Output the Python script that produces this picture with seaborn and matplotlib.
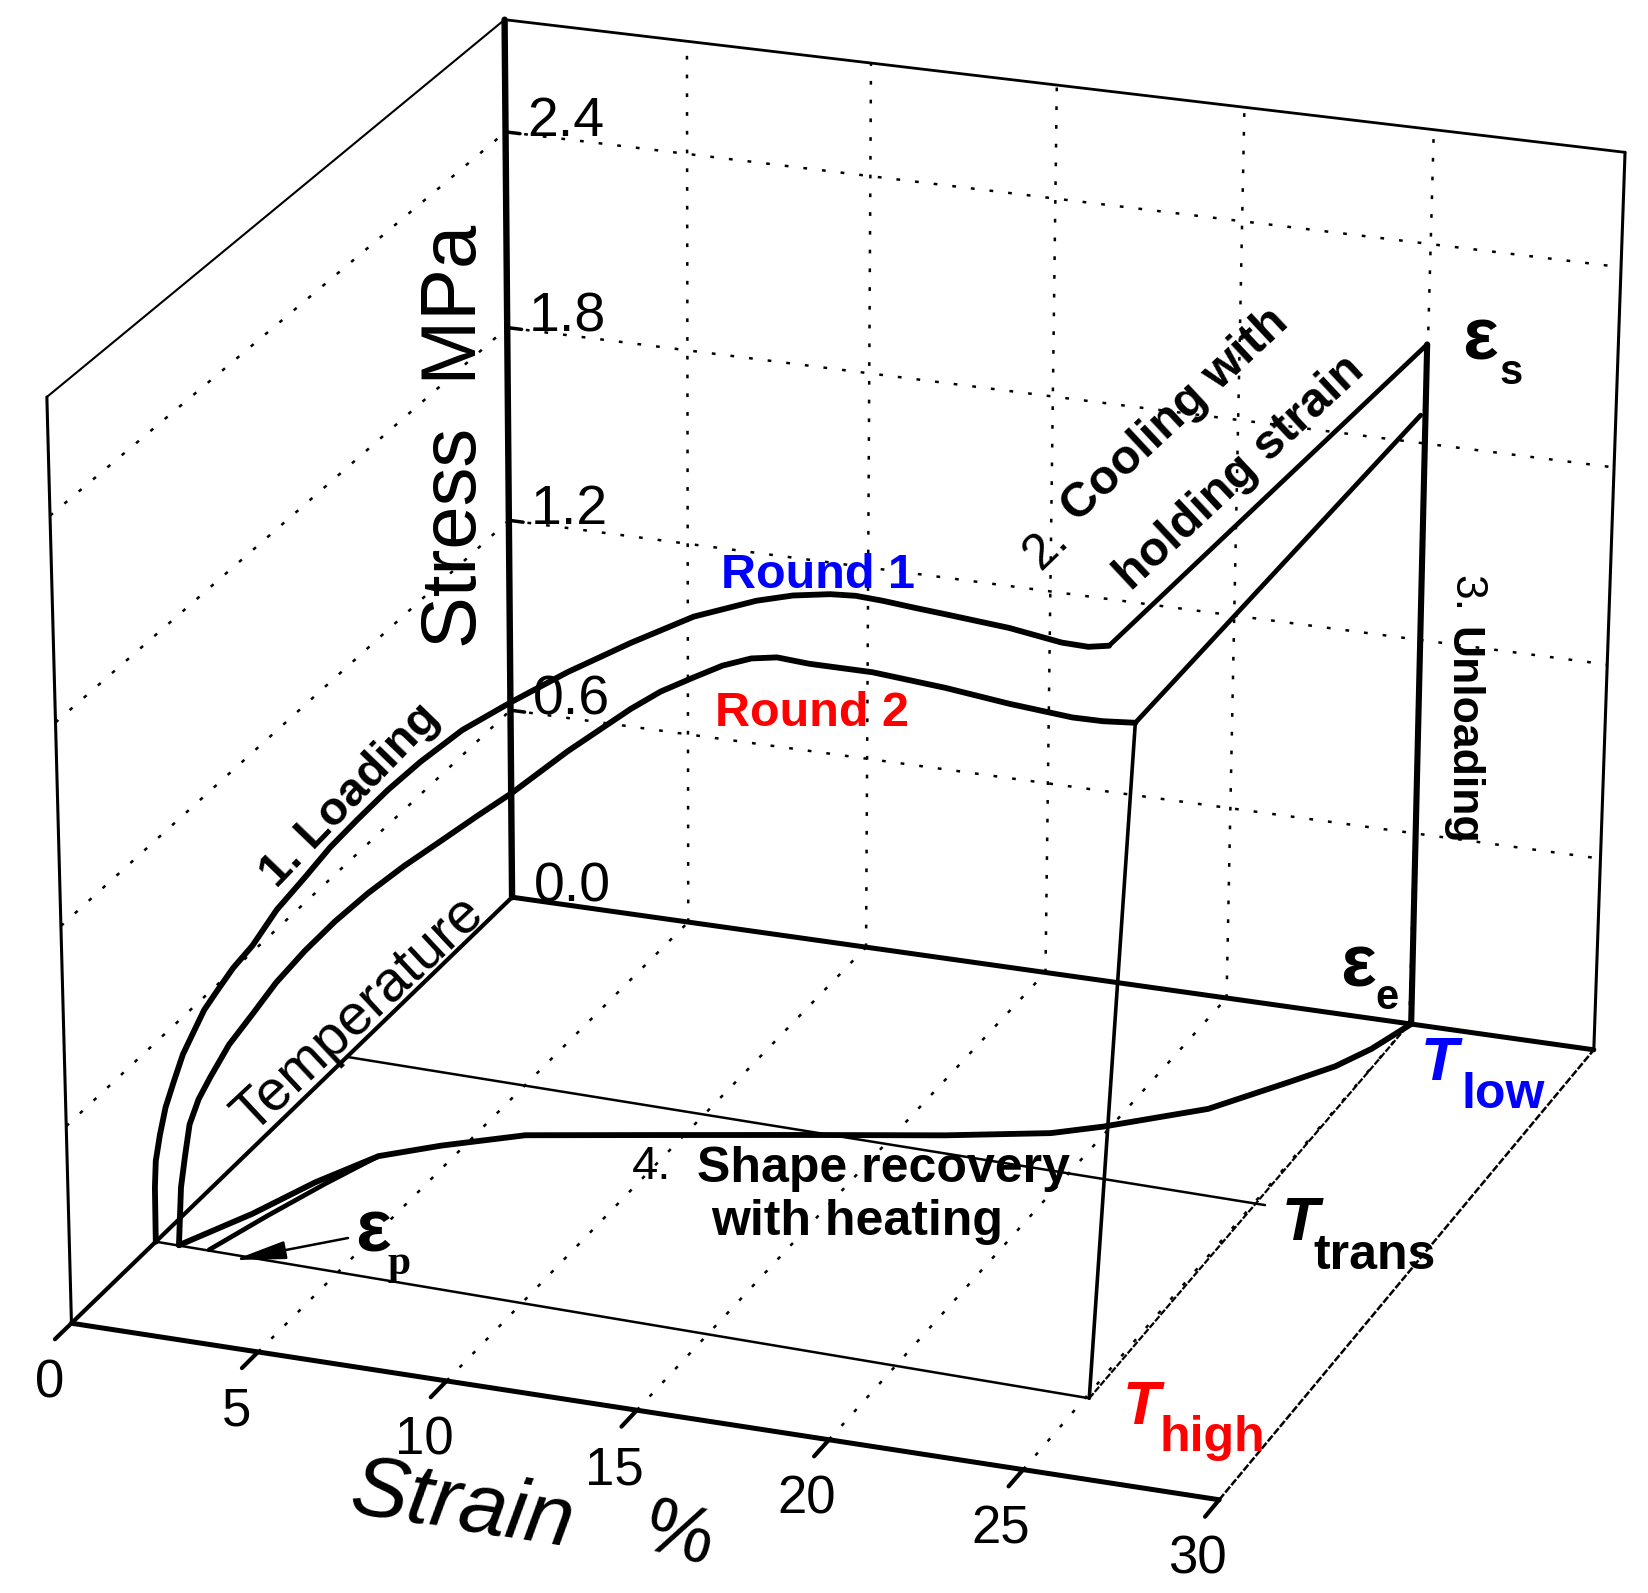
import numpy as np
import matplotlib
matplotlib.use('Agg')
import matplotlib.pyplot as plt
import seaborn as sns

strain_ticks = [0, 5, 10, 15, 20, 25, 30]
stress_ticks = [0.0, 0.6, 1.2, 1.8, 2.4]
stress_top = 2.74
t_front, t_high, t_trans, t_low = 0.0, 0.181, 0.609, 1.0
t_high_end, t_trans_end = 0.152, 0.58

round1_strain = [0.00, 0.01, 0.05, 0.18, 0.35, 0.58, 0.85, 1.18, 1.45, 1.77, 2.25, 2.78, 3.45, 4.22, 4.90, 5.64, 6.45,
                 7.32, 8.43, 9.73, 11.19, 12.83, 14.46, 16.07, 17.00, 17.95, 18.60, 19.29, 20.10, 20.90, 22.50, 23.83,
                 24.50, 25.02]
round1_stress = [0.00, 0.168, 0.250, 0.333, 0.420, 0.500, 0.590, 0.670, 0.735, 0.792, 0.875, 0.951, 1.070, 1.180, 1.280,
                 1.375, 1.475, 1.572, 1.683, 1.786, 1.895, 2.005, 2.106, 2.176, 2.205, 2.223, 2.228, 2.224, 2.216, 2.209,
                 2.194, 2.172, 2.170, 2.181]
round2_strain = [0.63, 0.72, 0.85, 0.99, 1.25, 1.58, 2.10, 2.75, 3.40, 4.18, 5.00, 5.89, 6.85, 7.85, 8.80, 9.71, 11.18,
                 12.82, 13.60, 14.45, 15.20, 15.94, 16.60, 17.42, 19.04, 20.91, 22.52, 24.12, 24.90, 25.71]
round2_stress = [0.00, 0.180, 0.280, 0.378, 0.460, 0.533, 0.640, 0.744, 0.850, 0.958, 1.060, 1.159, 1.255, 1.347, 1.435,
                 1.517, 1.663, 1.812, 1.875, 1.929, 1.975, 2.007, 2.020, 2.014, 2.014, 1.997, 1.976, 1.961, 1.962, 1.970]
cooled_strain = [24.98, 24.86]
cooled_stress = [2.099, 1.884]
recovery1_strain = [25.05, 24.61, 24.10, 23.32, 21.95, 19.82, 18.71, 16.24, 12.73, 9.22, 6.21, 4.45, 3.20, 2.33, 1.60, 0.63]
recovery1_temp = [1.0, 0.935, 0.887, 0.840, 0.760, 0.692, 0.663, 0.627, 0.584, 0.540, 0.502, 0.456, 0.416, 0.345, 0.264, 0.181]
recovery2_strain = [3.20, 2.60, 2.00, 1.45]
recovery2_temp = [0.416, 0.345, 0.264, 0.181]

# box corners as (strain, temperature, stress) and where they sit on the canvas
corner_world = np.array([[0, 0, 0], [30, 0, 0], [0, 1, 0], [30, 1, 0],
                         [0, 1, stress_top], [30, 1, stress_top], [0, 0, stress_top]], float)
corner_px = np.array([[71.5, 1322], [1219, 1501], [512, 899], [1594, 1048],
                      [504.5, 19], [1625, 153], [47, 397]], float)

rows = []
for (a, b, c), (u, v) in zip(corner_world, corner_px):
    rows.append([a, b, c, 1, 0, 0, 0, 0, -u*a, -u*b, -u*c, -u])
    rows.append([0, 0, 0, 0, a, b, c, 1, -v*a, -v*b, -v*c, -v])
camera = np.linalg.svd(np.array(rows))[2][-1].reshape(3, 4)


def project(strain, temp, stress):
    n = max(np.size(strain), np.size(temp), np.size(stress))
    world = np.ones((4, n))
    world[0], world[1], world[2] = strain, temp, stress
    h = camera @ world
    return h[0] / h[2], h[1] / h[2]


sns.set_style('white')
plt.rcParams['font.family'] = ['Liberation Sans', 'DejaVu Sans']
plt.rcParams['text.color'] = 'black'

fig, ax = plt.subplots(figsize=(16.48, 15.93), dpi=100)
fig.subplots_adjust(0, 0, 1, 1)
ax.set_xlim(0, 1648)
ax.set_ylim(1593, 0)
ax.axis('off')

dotted = (0, (1.5, 6))


def line3d(strain, temp, stress, lw=2.0, ls='-'):
    x, y = project(strain, temp, stress)
    sns.lineplot(x=x, y=y, sort=False, estimator=None, color='black', linewidth=lw,
                 linestyle=ls, legend=False, ax=ax)


# dotted grids on the walls and the floor
for s in strain_ticks[1:-1]:
    line3d([s, s], [t_low, t_low], [0, stress_top], 1.8, dotted)
    line3d([s, s], [t_front, t_low], [0, 0], 1.8, dotted)
for z in stress_ticks[1:]:
    line3d([0, 30], [t_low, t_low], [z, z], 1.8, dotted)
    line3d([0, 0], [t_front, t_low], [z, z], 1.8, dotted)

# box
line3d([0, 0], [t_front, t_low], [stress_top, stress_top], 1.5)
line3d([0, 30], [t_low, t_low], [stress_top, stress_top], 2.0)
line3d([0, 0], [t_front, t_front], [0, stress_top], 2.2)
line3d([30, 30], [t_low, t_low], [0, stress_top], 2.2)
line3d([30, 30], [t_front, t_low], [0, 0], 1.8, (0, (3, 0.8)))
line3d([25.1, 25], [t_high_end, t_low], [0, 0], 1.6, (0, (3, 0.8)))
line3d([0, 0], [t_low, t_low], [0, stress_top], 4.6)
line3d([0, 30], [t_low, t_low], [0, 0], 3.6)
line3d([0, 30], [t_front, t_front], [0, 0], 3.6)
line3d([0, 0], [t_front, t_low], [0, 0], 3.0)
line3d([0, 25.1], [t_high, t_high_end], [0, 0], 1.8)
line3d([0, 25.3], [t_trans, t_trans_end], [0, 0], 1.8)

# ticks
for s in strain_ticks:
    line3d([s, s], [t_front, t_front - 0.035], [0, 0], 3.0)
    x, y = project(s, t_front, 0)
    ax.text(x[0] - 22, y[0] + 60, str(s), fontsize=38, ha='center', va='center')
for z in stress_ticks:
    line3d([0, 0.4], [t_low, t_low], [z, z], 2.5)
    x, y = project(0, t_low, z)
    ax.text(x[0] + 22, y[0] - 10, f'{z:.1f}', fontsize=40, ha='left', va='center')

# the shape memory cycle
line3d(round1_strain, t_high, round1_stress, 4.2)
line3d(round2_strain, t_high, round2_stress, 4.2)
line3d([round1_strain[-1], cooled_strain[0]], [t_high, t_low], [round1_stress[-1], cooled_stress[0]], 3.4)
line3d([round2_strain[-1], cooled_strain[1]], [t_high, t_low], [round2_stress[-1], cooled_stress[1]], 3.4)
line3d([cooled_strain[0], recovery1_strain[0]], t_low, [cooled_stress[0], 0], 4.4)
line3d([round2_strain[-1], 25.1], [t_high, t_high_end], [round2_stress[-1], 0], 2.6)
line3d(recovery1_strain, recovery1_temp, 0, 4.2)
line3d(recovery2_strain, recovery2_temp, 0, 3.4)

ax.annotate('', xy=(234, 1260), xytext=(348, 1238),
            arrowprops=dict(arrowstyle='-|>,head_length=2.0,head_width=0.35', mutation_scale=16,
                            color='black', lw=1.8, shrinkA=0, shrinkB=0))

# axis titles
ax.text(462, 1508, 'Strain', fontsize=62, style='italic', rotation=-9, ha='center', va='center')
ax.text(678, 1537, '%', fontsize=56, rotation=-15, ha='center', va='center')
ax.text(456, 436, 'Stress  MPa', fontsize=56, rotation=90, ha='center', va='center')

# step labels
ax.text(350, 796, '1. Loading', fontsize=34, weight='bold', rotation=46, ha='center', va='center')
ax.text(359, 1014, 'Temperature', fontsize=41, rotation=43, ha='center', va='center')
ax.text(1046, 547, '2.', fontsize=36, rotation=44, ha='center', va='center')
ax.text(1175, 415, 'Cooling with', fontsize=35, weight='bold', rotation=43, ha='center', va='center')
ax.text(1240, 473, 'holding strain', fontsize=35, weight='bold', rotation=43, ha='center', va='center')
ax.text(1466, 594, '3.', fontsize=32, rotation=-90, ha='center', va='center')
ax.text(1462, 736, 'Unloading', fontsize=32, weight='bold', rotation=-90, ha='center', va='center')
ax.text(652, 1167, '4.', fontsize=34, ha='center', va='center')
ax.text(883, 1169, 'Shape recovery', fontsize=36, weight='bold', ha='center', va='center')
ax.text(857, 1222, 'with heating', fontsize=36, weight='bold', ha='center', va='center')
ax.text(818, 575, 'Round 1', fontsize=35, weight='bold', color='#0000ff', ha='center', va='center')
ax.text(812, 713, 'Round 2', fontsize=35, weight='bold', color='#ff0000', ha='center', va='center')

# temperature levels
ax.text(1439, 1064, 'T', fontsize=44, weight='bold', style='italic', color='#0000ff', ha='center', va='center')
ax.text(1503, 1095, 'low', fontsize=36, weight='bold', color='#0000ff', ha='center', va='center')
ax.text(1300, 1224, 'T', fontsize=44, weight='bold', style='italic', color='black', ha='center', va='center')
ax.text(1375, 1256, 'trans', fontsize=36, weight='bold', color='black', ha='center', va='center')
ax.text(1141, 1408, 'T', fontsize=44, weight='bold', style='italic', color='#ff0000', ha='center', va='center')
ax.text(1212, 1438, 'high', fontsize=36, weight='bold', color='#ff0000', ha='center', va='center')

# strain markers
ax.text(1480, 340, 'ε', fontsize=54, weight='bold', ha='center', va='center')
ax.text(1511, 373, 's', fontsize=30, weight='bold', ha='center', va='center')
ax.text(1358, 967, 'ε', fontsize=54, weight='bold', ha='center', va='center')
ax.text(1387, 998, 'e', fontsize=30, weight='bold', ha='center', va='center')
ax.text(373, 1232, 'ε', fontsize=54, weight='bold', ha='center', va='center')
ax.text(399, 1264, 'p', fontsize=30, weight='bold', family='Liberation Serif', ha='center', va='center')

fig.savefig('out.png', dpi=100)
